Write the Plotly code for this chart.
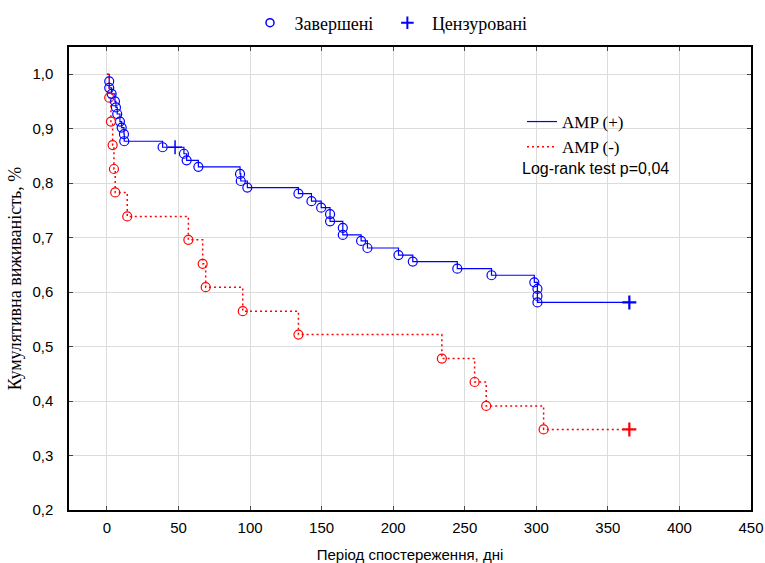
import plotly.graph_objects as go

# AMP (+) events (time, survival)
amp_pos_t = [1.6, 1.6, 3.3, 5.6, 6.3, 7.2, 9.1, 10.3, 11.9, 12.1,
             38.9, 53.8, 55.7, 63.9, 93.0, 93.5, 98.1,
             133.8, 142.9, 149.7, 155.9, 155.9, 164.8, 164.8, 177.6, 182.0,
             203.7, 213.7, 244.8, 268.7, 298.6, 300.8, 300.8, 300.8]
amp_pos_s = [0.987, 0.975, 0.964, 0.950, 0.939, 0.927, 0.913, 0.902, 0.890, 0.877,
             0.866, 0.854, 0.842, 0.830, 0.817, 0.804, 0.792,
             0.781, 0.767, 0.755, 0.743, 0.730, 0.718, 0.705, 0.694, 0.681,
             0.668, 0.656, 0.643, 0.631, 0.618, 0.606, 0.593, 0.581]
amp_pos_cens_t = [47.6, 365.0]
amp_pos_cens_s = [0.866, 0.581]

# AMP (-) events
amp_neg_t = [1.6, 2.8, 4.0, 4.9, 5.8, 14.2, 56.9, 66.9, 69.0, 94.9,
             133.8, 234.0, 256.9, 265.0, 305.1]
amp_neg_s = [0.957, 0.913, 0.870, 0.826, 0.783, 0.739, 0.696, 0.652, 0.609, 0.565,
             0.522, 0.478, 0.435, 0.391, 0.348]
amp_neg_cens_t = [365.0]
amp_neg_cens_s = [0.348]

x_ticks = [0, 50, 100, 150, 200, 250, 300, 350, 400, 450]
y_ticks = [0.2, 0.3, 0.4, 0.5, 0.6, 0.7, 0.8, 0.9, 1.0]
y_ticktext = ["0,2", "0,3", "0,4", "0,5", "0,6", "0,7", "0,8", "0,9", "1,0"]

BLUE = "#0000ff"
RED = "#ff0000"
SERIF = "Liberation Serif, Times New Roman, serif"
SANS = "Liberation Sans, Arial, sans-serif"

W, H = 765, 563
L, R, T, B = 69, 14, 47, 53
pw, ph = W - L - R, H - T - B

fig = go.Figure()

# step lines
fig.add_trace(go.Scatter(
    x=[0] + amp_pos_t + [amp_pos_cens_t[-1]],
    y=[1.0] + amp_pos_s + [amp_pos_cens_s[-1]],
    mode="lines", line=dict(color=BLUE, width=1.2, shape="hv"),
    name="AMP (+)", legend="legend2"))
fig.add_trace(go.Scatter(
    x=[0] + amp_neg_t + [amp_neg_cens_t[-1]],
    y=[1.0] + amp_neg_s + [amp_neg_cens_s[-1]],
    mode="lines", line=dict(color=RED, width=1.5, shape="hv", dash="2px,3px"),
    name="AMP (-)", legend="legend2"))

# event circles
fig.add_trace(go.Scatter(
    x=amp_pos_t, y=amp_pos_s, mode="markers", showlegend=False,
    marker=dict(symbol="circle-open", size=9, color=BLUE, line=dict(width=1.2))))
fig.add_trace(go.Scatter(
    x=amp_neg_t, y=amp_neg_s, mode="markers", showlegend=False,
    marker=dict(symbol="circle-open", size=9, color=RED, line=dict(width=1.2))))

# censored
fig.add_trace(go.Scatter(
    x=amp_pos_cens_t, y=amp_pos_cens_s, mode="markers", showlegend=False,
    marker=dict(symbol="cross-thin", size=10, color=BLUE, line=dict(width=[1.5, 2.2], color=BLUE))))
fig.add_trace(go.Scatter(
    x=amp_neg_cens_t, y=amp_neg_cens_s, mode="markers", showlegend=False,
    marker=dict(symbol="cross-thin", size=10, color=RED, line=dict(width=2.2, color=RED))))

# top legend entries
fig.add_trace(go.Scatter(
    x=[None], y=[None], mode="markers", name="\u00a0Завершені\u00a0\u00a0", legend="legend",
    marker=dict(symbol="circle-open", size=8, color=BLUE, line=dict(width=1.5))))
fig.add_trace(go.Scatter(
    x=[None], y=[None], mode="markers", name="\u00a0Цензуровані", legend="legend",
    marker=dict(symbol="cross-thin", size=9, color=BLUE, line=dict(width=2, color=BLUE))))

fig.add_annotation(
    x=(520 - L) / pw, y=1 - (168 - T) / ph, xref="paper", yref="paper",
    text="Log-rank test p=0,04",
    showarrow=False, font=dict(family=SANS, size=16, color="black"),
    xanchor="left", yanchor="middle")

fig.update_layout(
    width=W, height=H,
    margin=dict(l=L, r=R, t=T, b=B, autoexpand=False),
    paper_bgcolor="white", plot_bgcolor="white",
    font=dict(family=SANS, size=14, color="black"),
    legend=dict(
        orientation="h", x=250 / W, xanchor="left",
        y=1 - 23 / H, yanchor="middle", xref="container", yref="container",
        font=dict(family=SERIF, size=18, color="black"),
        bgcolor="rgba(0,0,0,0)", itemwidth=30, tracegroupgap=0),
    legend2=dict(
        x=(522 - L) / pw, xanchor="left", y=1 - (104 - T) / ph, yanchor="top",
        font=dict(family=SERIF, size=17, color="black"),
        bgcolor="rgba(0,0,0,0)", tracegroupgap=0, itemwidth=30),
    xaxis=dict(
        range=[-26.5, 450], tickvals=x_ticks, ticks="inside", ticklen=4,
        showgrid=True, gridcolor="#dcdcdc", gridwidth=1,
        showline=True, linecolor="black", linewidth=1.5, mirror="ticks",
        zeroline=False, tickfont=dict(family=SANS, size=15), automargin=False,
        ticklabelstandoff=3,
        title=dict(text="Період спостереження, дні", font=dict(family=SANS, size=15), standoff=17)),
    yaxis=dict(
        range=[0.2, 1.05], tickvals=y_ticks, ticktext=y_ticktext, ticks="inside", ticklen=4,
        showgrid=True, gridcolor="#dcdcdc", gridwidth=1,
        showline=True, linecolor="black", linewidth=1.5, mirror="ticks",
        zeroline=False, tickfont=dict(family=SANS, size=15), ticklabelstandoff=11,
        automargin=False,
        title=dict(text="Кумулятивна виживаність, %", font=dict(family=SERIF, size=18), standoff=6)),
)

fig.write_html("out.html")
